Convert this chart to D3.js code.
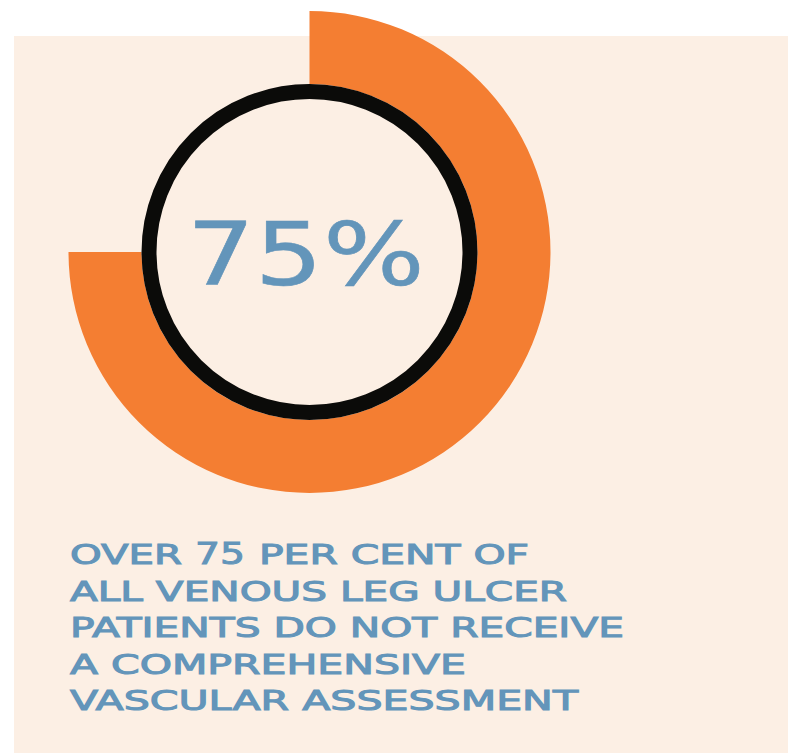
<!DOCTYPE html>
<html>
<head>
<meta charset="utf-8">
<script src="https://cdn.jsdelivr.net/npm/d3@7"></script>
<style>
  html, body { margin: 0; padding: 0; background: #ffffff; }
  svg { display: block; }
</style>
</head>
<body>
<div id="chart"></div>
<script>
// ---- data ----
const categories = ["Not assessed", "Assessed"];
const values = [75, 25];
const headlineLabel = "75%";
const captionLines = [
  ["OVER ", "75", " PER CENT OF"],
  ["ALL VENOUS LEG ULCER"],
  ["PATIENTS DO NOT RECEIVE"],
  ["A COMPREHENSIVE"],
  ["VASCULAR ASSESSMENT"]
];

// ---- layout ----
const W = 788, H = 753;
const cx = 309.5, cy = 252;
const outerR = 241, innerR = 168;
const ringR = 160.5, ringW = 15;
const blue = "#6395BA";

const svg = d3.select("#chart").append("svg")
  .attr("width", W).attr("height", H);

svg.append("rect")
  .attr("x", 14).attr("y", 36)
  .attr("width", W - 14).attr("height", H - 36)
  .attr("fill", "#FCEFE4");

const pie = d3.pie().sort(null).value(d => d);
const arc = d3.arc().innerRadius(innerR).outerRadius(outerR);
const colors = d3.scaleOrdinal().domain(categories).range(["#F47E32", "none"]);

const g = svg.append("g").attr("transform", `translate(${cx},${cy})`);
g.selectAll("path.slice")
  .data(pie(values))
  .join("path")
  .attr("class", "slice")
  .attr("d", arc)
  .attr("fill", (d, i) => colors(categories[i]));

g.append("circle")
  .attr("r", ringR)
  .attr("fill", "none")
  .attr("stroke", "#0B0B09")
  .attr("stroke-width", ringW);

g.append("text")
  .attr("x", 186.7 - cx)
  .attr("y", 285 - cy)
  .attr("font-family", "DejaVu Sans")
  .attr("font-size", 88)
  .attr("fill", blue)
  .attr("stroke", blue)
  .attr("stroke-width", 0.6)
  .attr("textLength", 238)
  .attr("lengthAdjust", "spacingAndGlyphs")
  .text(headlineLabel);

// caption
const baselines = [564, 600.5, 637, 673.5, 710];
const lineSpans = [
  [[70, 112], [195, 50], [259, 270]],
  [[70, 497]],
  [[70, 554]],
  [[70, 396]],
  [[70, 508]]
];
const cap = svg.append("g")
  .attr("font-family", "DejaVu Sans")
  .attr("fill", blue)
  .attr("stroke", blue)
  .attr("stroke-width", 1);

captionLines.forEach((parts, li) => {
  parts.forEach((p, pi) => {
    const txt = p.trim();
    const big = txt === "75";
    cap.append("text")
      .attr("x", lineSpans[li][pi][0])
      .attr("y", baselines[li])
      .attr("font-size", big ? 31 : 26)
      .attr("textLength", lineSpans[li][pi][1])
      .attr("lengthAdjust", "spacingAndGlyphs")
      .text(txt);
  });
});
</script>
</body>
</html>
